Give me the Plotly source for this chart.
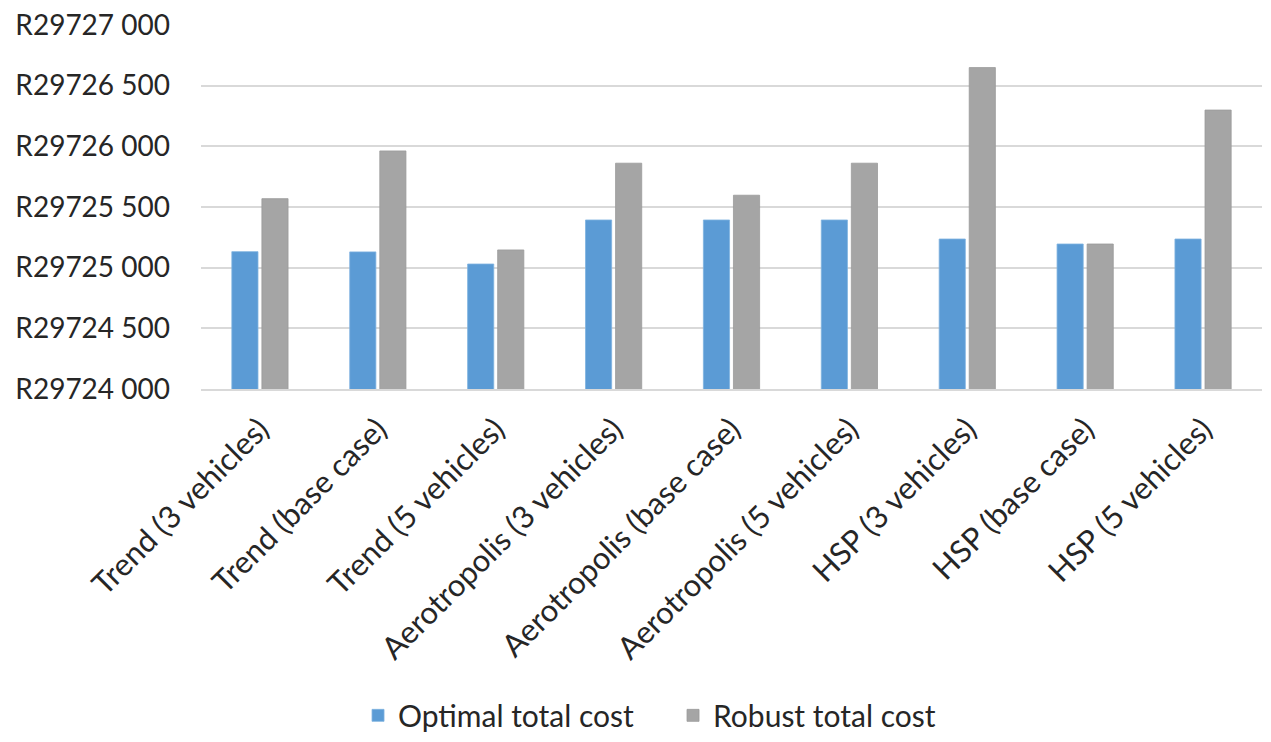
import plotly.graph_objects as go

categories = [
    "Trend (3 vehicles)", "Trend (base case)", "Trend (5 vehicles)",
    "Aerotropolis (3 vehicles)", "Aerotropolis (base case)", "Aerotropolis (5 vehicles)",
    "HSP (3 vehicles)", "HSP (base case)", "HSP (5 vehicles)",
]
optimal_cost = [29725132, 29725130, 29725030, 29725393, 29725393, 29725393,
                29725236, 29725195, 29725236]
robust_cost = [29725569, 29725962, 29725146, 29725861, 29725597, 29725861,
               29726649, 29725195, 29726299]
tick_values = [29724000, 29724500, 29725000, 29725500, 29726000, 29726500, 29727000]
tick_labels = ["R29724 000", "R29724 500", "R29725 000", "R29725 500",
               "R29726 000", "R29726 500", "R29727 000"]

font_family = "Lato, 'Open Sans', sans-serif"

fig = go.Figure()
fig.add_trace(go.Bar(
    x=categories, y=optimal_cost, name="Optimal total cost",
    base=0,
    marker=dict(color="#5B9BD5", line=dict(color="#7FB2E0", width=0.8)),
))
fig.add_trace(go.Bar(
    x=categories, y=robust_cost, name="Robust total cost",
    base=0,
    marker=dict(color="#A5A5A5", line=dict(color="#9A9A9A", width=0.8)),
))

fig.update_layout(
    width=1271, height=742,
    margin=dict(l=201, r=9, t=25, b=353, autoexpand=False),
    paper_bgcolor="white", plot_bgcolor="white",
    barmode="group", bargap=0.49, bargroupgap=0.13,
    font=dict(family=font_family, size=28, color="#262626"),
    showlegend=True,
    legend=dict(orientation="h", x=0.148, xanchor="left", y=-0.968, yanchor="bottom",
                font=dict(size=30, color="#262626"), itemwidth=30,
                entrywidth=270, traceorder="normal", borderwidth=0),
)
fig.update_xaxes(
    automargin=False,
    tickangle=-45, showgrid=False, showline=True, linecolor="#D9D9D9", linewidth=1.5,
    ticks="", ticklabelstandoff=8, tickfont=dict(size=31, color="#262626"),
)
fig.update_yaxes(
    automargin=False,
    range=[29724000, 29727000], tickvals=tick_values, ticktext=tick_labels,
    showgrid=True, gridcolor="#D9D9D9", gridwidth=1.5, zeroline=False, showline=False,
    ticks="", ticklabelstandoff=30, tickfont=dict(size=28, color="#262626"),
)

fig.write_html("out.html")
